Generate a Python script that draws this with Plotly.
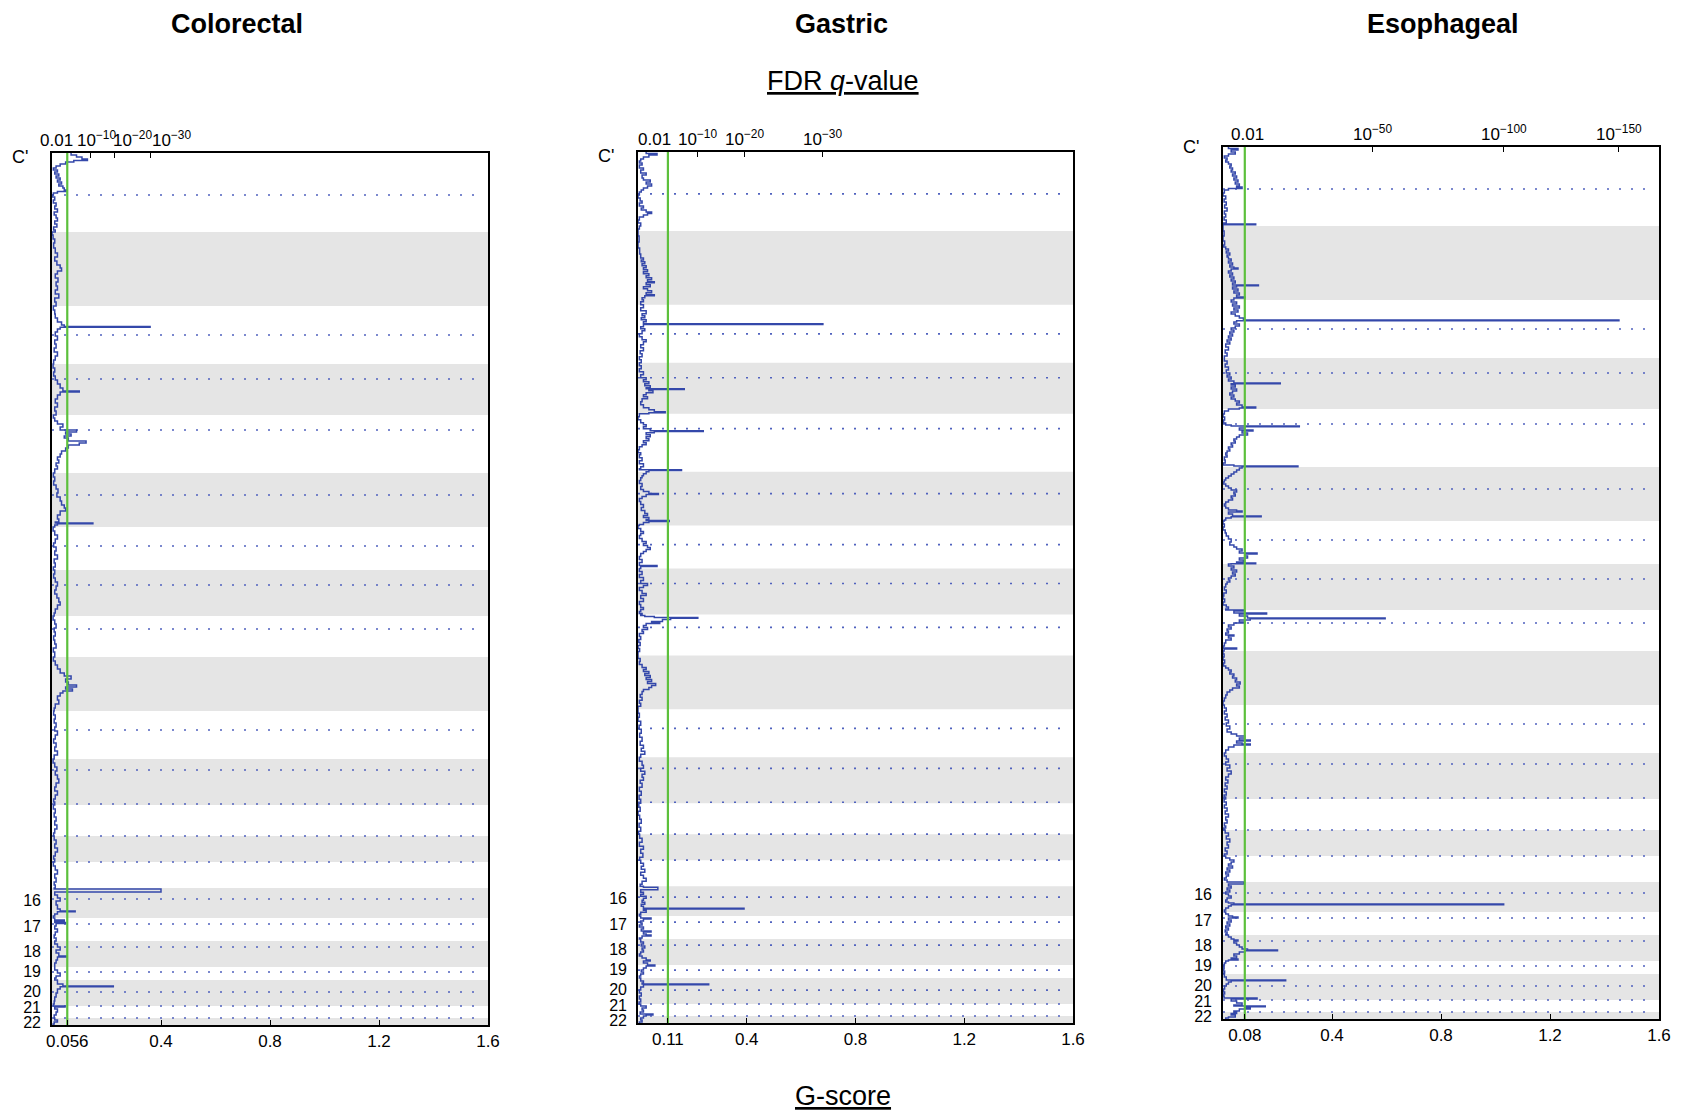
import plotly.graph_objects as go

# ---------------- data ----------------
panel_names = ["Colorectal", "Gastric", "Esophageal"]

# chromosome extents along the genome axis (marker-based units, chr1..chr22)
chrom_len = [79, 74, 58, 51, 58, 54, 43, 46, 41, 54, 48, 46, 31, 26, 26, 30, 23, 26, 13, 26, 12, 7]
# centromere positions (genome units) where dotted lines are drawn
cen_pos = [42, 182, 226, 277, 342, 393, 432, 476, 577, 617, 651, 683, 709, 746, 771, 794, 819, 839, 853, 865]
chr_label_text = ["16", "17", "18", "19", "20", "21", "22"]
chr_label_pos = [747, 773, 798, 818, 838, 854, 869]

thresholds = [0.056, 0.11, 0.08]
threshold_text = ["0.056", "0.11", "0.08"]
g_ticks = [0.4, 0.8, 1.2, 1.6]
g_tick_text = ["0.4", "0.8", "1.2", "1.6"]

crc_q_ticks = [0.143, 0.228, 0.36]
crc_q_label_x = [0.015, 0.162, 0.297, 0.44]
crc_q_labels = ["0.01", "10<sup>−10</sup>", "10<sup>−20</sup>", "10<sup>−30</sup>"]
gas_q_ticks = [0.22, 0.39, 0.68]
gas_q_label_x = [0.059, 0.22, 0.39, 0.68]
gas_q_labels = ["0.01", "10<sup>−10</sup>", "10<sup>−20</sup>", "10<sup>−30</sup>"]
eso_q_ticks = [0.55, 1.03, 1.453]
eso_q_label_x = [0.09, 0.55, 1.03, 1.453]
eso_q_labels = ["0.01", "10<sup>−50</sup>", "10<sup>−100</sup>", "10<sup>−150</sup>"]

# G-score profiles: (genome position, G-score)
crc_profile = [
    (0, 0.07), (2, 0.09), (4, 0.11), (6, 0.13), (7.5, 0.08), (9, 0.05), (11, 0.03), (13, 0.015), (15, 0.005),
    (17, 0.02), (19, 0.01), (21, 0.025), (23, 0.015), (25, 0.03), (27, 0.02), (29, 0.035), (31, 0.025),
    (33, 0.04), (35, 0.045), (37, 0.055), (38.5, 0.02), (40, 0.005), (42, 0.0), (44, 0.01), (47, 0.005),
    (50, 0.015), (53, 0.01), (56, 0.02), (59, 0.008), (62, 0.015), (65, 0.02), (68, 0.01), (71, 0.018),
    (74, 0.006), (77, 0.012),
    (79, 0.0), (82, 0.004), (86, 0.01), (90, 0.006), (95, 0.012), (100, 0.02), (104, 0.01), (108, 0.018),
    (112, 0.03), (115, 0.035), (118, 0.02), (121, 0.012), (125, 0.022), (129, 0.015), (133, 0.02),
    (137, 0.012), (141, 0.025), (145, 0.01), (149, 0.015),
    (153, 0.005), (157, 0.01), (161, 0.012), (165, 0.02), (169, 0.035), (172, 0.045), (173.5, 0.36),
    (174.3, 0.03), (176, 0.02), (179, 0.012), (183, 0.02), (187, 0.01), (191, 0.015), (195, 0.008),
    (199, 0.02), (203, 0.012), (207, 0.006),
    (211, 0.004), (215, 0.01), (219, 0.006), (223, 0.012), (227, 0.02), (231, 0.03), (235, 0.04),
    (238, 0.1), (239, 0.03), (242, 0.02), (246, 0.012), (250, 0.02), (254, 0.01), (258, 0.015),
    (262, 0.005), (265, 0.01), (268, 0.02), (271, 0.04), (274, 0.03), (277, 0.09), (279, 0.05),
    (281, 0.07), (283, 0.045), (285, 0.06), (288, 0.125), (290, 0.1), (292, 0.06), (295, 0.05),
    (298, 0.035), (301, 0.03), (304, 0.02), (307, 0.025), (310, 0.015), (313, 0.02), (316, 0.01),
    (320, 0.005), (324, 0.01), (328, 0.006), (332, 0.015), (336, 0.022), (340, 0.018), (344, 0.03),
    (348, 0.035), (352, 0.045), (355, 0.05), (358, 0.03), (362, 0.02), (366, 0.025), (369, 0.012),
    (370, 0.15), (370.8, 0.02), (372, 0.01),
    (374, 0.004), (378, 0.01), (382, 0.02), (386, 0.012), (390, 0.006), (394, 0.015), (398, 0.01),
    (402, 0.02), (406, 0.008), (410, 0.012), (414, 0.005),
    (417, 0.01), (421, 0.006), (425, 0.012), (429, 0.02), (433, 0.015), (437, 0.01), (441, 0.018),
    (445, 0.025), (449, 0.03), (452, 0.02), (456, 0.012), (460, 0.008),
    (463, 0.004), (467, 0.01), (471, 0.015), (475, 0.008), (479, 0.012), (483, 0.006), (487, 0.01),
    (491, 0.015), (495, 0.005), (499, 0.01),
    (504, 0.005), (508, 0.012), (512, 0.02), (516, 0.03), (520, 0.045), (523, 0.07), (526, 0.05),
    (529, 0.06), (532, 0.09), (534, 0.05), (536, 0.075), (538, 0.04), (540, 0.03), (543, 0.02),
    (547, 0.025), (551, 0.012), (555, 0.008),
    (558, 0.006), (562, 0.012), (566, 0.008), (570, 0.015), (574, 0.01), (578, 0.02), (582, 0.012),
    (586, 0.006), (590, 0.015), (594, 0.01), (598, 0.02), (602, 0.008),
    (606, 0.004), (610, 0.01), (614, 0.018), (618, 0.012), (622, 0.02), (626, 0.025), (630, 0.015),
    (634, 0.01), (638, 0.02), (642, 0.012), (646, 0.006), (649, 0.01),
    (652, 0.005), (656, 0.012), (660, 0.008), (664, 0.015), (668, 0.01), (672, 0.018), (676, 0.01),
    (680, 0.006),
    (683, 0.008), (687, 0.015), (691, 0.01), (695, 0.02), (699, 0.012), (703, 0.006), (706, 0.01),
    (709, 0.005), (713, 0.012), (717, 0.02), (721, 0.01), (725, 0.015), (729, 0.008), (732, 0.012),
    (735, 0.008), (736, 0.40), (739, 0.01), (742, 0.02), (745, 0.03), (748, 0.015), (752, 0.02),
    (756, 0.03), (758, 0.085), (758.8, 0.02), (761, 0.01), (763, 0.005),
    (765, 0.01), (767, 0.045), (768, 0.01), (769.5, 0.05), (770.5, 0.015), (773, 0.01), (776, 0.02),
    (779, 0.012), (782, 0.008), (785, 0.015),
    (788, 0.01), (791, 0.02), (794, 0.03), (797, 0.015), (800, 0.025), (803, 0.055), (804, 0.02),
    (807, 0.015), (810, 0.01),
    (814, 0.01), (817, 0.02), (820, 0.03), (823, 0.015), (825, 0.01),
    (827, 0.02), (831, 0.04), (833, 0.225), (833.8, 0.03), (836, 0.02), (840, 0.015), (844, 0.01),
    (848, 0.008), (851, 0.005),
    (853, 0.048), (854, 0.01), (856, 0.02), (859, 0.015), (862, 0.008),
    (865, 0.01), (867, 0.02), (869, 0.008), (871, 0.004), (872, 0.004),
]

gas_profile = [
    (0, 0.03), (1.5, 0.07), (3, 0.04), (5, 0.02), (7, 0.01), (9, 0.005), (11, 0.015), (13, 0.005),
    (16, 0.02), (18, 0.01), (21, 0.03), (23, 0.015), (26, 0.02), (28, 0.045), (30, 0.03), (32, 0.05),
    (34, 0.035), (36, 0.02), (38, 0.012), (40, 0.005), (43, 0.0), (46, 0.008), (49, 0.015), (51, 0.005),
    (54, 0.02), (56, 0.012), (58, 0.03), (60, 0.05), (61.5, 0.035), (63, 0.02), (65, 0.005), (68, 0.0),
    (71, 0.01), (74, 0.005), (77, 0.0),
    (79, 0.0), (84, 0.004), (90, 0.0), (96, 0.006), (102, 0.01), (106, 0.02), (108, 0.012), (110, 0.025),
    (112, 0.015), (114, 0.03), (116, 0.02), (118, 0.035), (120, 0.02), (122, 0.04), (124, 0.03),
    (126, 0.05), (128, 0.035), (130, 0.06), (131, 0.03), (133, 0.045), (135, 0.02), (137, 0.035),
    (139, 0.05), (141, 0.03), (143, 0.06), (144, 0.025), (146, 0.015), (148, 0.02), (150, 0.01),
    (153, 0.02), (156, 0.01), (159, 0.03), (162, 0.015), (164, 0.025), (166, 0.012), (168, 0.03),
    (170, 0.02), (172, 0.68), (172.8, 0.02), (175, 0.01), (177, 0.025), (179, 0.015), (182, 0.005),
    (185, 0.015), (188, 0.03), (190, 0.02), (193, 0.01), (196, 0.02), (199, 0.008), (202, 0.015),
    (205, 0.005), (208, 0.012),
    (211, 0.005), (214, 0.012), (217, 0.005), (220, 0.02), (223, 0.01), (226, 0.03), (228, 0.02),
    (230, 0.04), (232, 0.025), (234, 0.045), (236, 0.03), (237, 0.17), (237.8, 0.04), (239, 0.055),
    (241, 0.03), (243, 0.02), (245, 0.035), (247, 0.015), (250, 0.01), (253, 0.02), (256, 0.04),
    (258, 0.06), (260, 0.1), (261, 0.04),
    (262, 0.005), (265, 0.0), (268, 0.01), (271, 0.02), (273, 0.03), (275, 0.02), (277, 0.045),
    (279, 0.24), (279.8, 0.06), (281, 0.03), (283, 0.045), (285, 0.03), (287, 0.04), (289, 0.02),
    (291, 0.03), (293, 0.015), (295, 0.005), (298, 0.0), (301, 0.01), (303, 0.005), (306, 0.015),
    (309, 0.005), (312, 0.02), (315, 0.01), (317, 0.005),
    (318, 0.16), (318.8, 0.04), (320, 0.03), (322, 0.02), (324, 0.015), (326, 0.01), (329, 0.005),
    (332, 0.015), (335, 0.01), (338, 0.02), (340, 0.04), (342, 0.075), (343, 0.03), (345, 0.015),
    (347, 0.005), (350, 0.01), (353, 0.02), (356, 0.012), (359, 0.025), (362, 0.035), (364, 0.02),
    (366, 0.04), (368, 0.03), (369, 0.115), (370, 0.04), (371, 0.02), (373, 0.005),
    (374, 0.0), (377, 0.01), (380, 0.02), (382, 0.01), (384, 0.005), (387, 0.015), (390, 0.03),
    (392, 0.02), (394, 0.035), (396, 0.045), (398, 0.03), (400, 0.02), (402, 0.01), (405, 0.005),
    (408, 0.015), (411, 0.005), (414, 0.07), (415, 0.01),
    (417, 0.005), (420, 0.015), (423, 0.005), (426, 0.02), (429, 0.01), (432, 0.035), (434, 0.02),
    (436, 0.005), (439, 0.015), (442, 0.03), (444, 0.01), (447, 0.02), (450, 0.005), (453, 0.01),
    (456, 0.02), (458, 0.01), (460, 0.005), (462, 0.015),
    (463, 0.01), (464, 0.025), (465, 0.06), (466, 0.22), (466.8, 0.12), (468, 0.09), (470, 0.05),
    (471, 0.08), (472, 0.03), (474, 0.02), (476, 0.035), (478, 0.015), (480, 0.02), (482, 0.005),
    (485, 0.01), (488, 0.003), (491, 0.008), (494, 0.0), (497, 0.006), (500, 0.0),
    (504, 0.0), (507, 0.008), (510, 0.005), (513, 0.015), (516, 0.03), (518, 0.02), (520, 0.04),
    (522, 0.025), (524, 0.045), (526, 0.03), (528, 0.05), (530, 0.035), (532, 0.065), (534, 0.05),
    (536, 0.04), (538, 0.02), (540, 0.015), (543, 0.008), (546, 0.015), (549, 0.005), (552, 0.01),
    (555, 0.0),
    (558, 0.0), (562, 0.005), (566, 0.0), (570, 0.01), (574, 0.004), (578, 0.012), (582, 0.006),
    (586, 0.015), (590, 0.008), (594, 0.02), (597, 0.012), (600, 0.025), (603, 0.01),
    (606, 0.005), (610, 0.015), (614, 0.02), (617, 0.01), (620, 0.025), (623, 0.015), (626, 0.02),
    (629, 0.008), (632, 0.015), (636, 0.005), (640, 0.012), (644, 0.004), (648, 0.01),
    (652, 0.003), (656, 0.008), (660, 0.0), (664, 0.006), (668, 0.012), (672, 0.004), (676, 0.01),
    (680, 0.002),
    (683, 0.006), (687, 0.015), (691, 0.005), (695, 0.02), (698, 0.01), (702, 0.018), (706, 0.006),
    (709, 0.01), (712, 0.02), (715, 0.012), (718, 0.025), (721, 0.01), (724, 0.02), (727, 0.03),
    (730, 0.015), (733, 0.008),
    (735, 0.02), (736, 0.073), (738.5, 0.01), (741, 0.02), (743, 0.01), (745, 0.03), (747, 0.02),
    (749, 0.015), (751, 0.025), (753, 0.012), (755, 0.02), (757, 0.39), (757.8, 0.02), (759, 0.03),
    (761, 0.01), (763, 0.005),
    (765, 0.01), (767, 0.048), (768, 0.02), (770, 0.01), (772, 0.015), (774, 0.005), (776, 0.02),
    (778, 0.012), (780, 0.048), (781, 0.02), (783, 0.03), (784, 0.048), (785, 0.015), (787, 0.005),
    (788, 0.01), (791, 0.02), (793, 0.012), (795, 0.025), (797, 0.015), (799, 0.02), (801, 0.01),
    (803, 0.005), (805, 0.015), (807, 0.03), (809, 0.045), (810, 0.02), (812, 0.035),
    (814, 0.062), (815, 0.03), (817, 0.02), (819, 0.012), (821, 0.02), (823, 0.01), (825, 0.005),
    (827, 0.01), (830, 0.02), (832, 0.015), (833, 0.26), (833.8, 0.02), (836, 0.01), (839, 0.005),
    (842, 0.012), (845, 0.005), (848, 0.01), (851, 0.004),
    (853, 0.01), (855, 0.03), (857, 0.015), (859, 0.02), (861, 0.008), (863, 0.055), (864, 0.03),
    (865, 0.02), (867, 0.01), (869, 0.015), (871, 0.005), (872, 0.005),
]

eso_profile = [
    (0, 0.02), (1.5, 0.055), (3, 0.03), (5, 0.045), (7, 0.02), (9, 0.005), (11, 0.015), (13, 0.01),
    (15, 0.02), (17, 0.03), (19, 0.025), (21, 0.035), (23, 0.03), (25, 0.045), (27, 0.035), (29, 0.05),
    (31, 0.04), (33, 0.055), (35, 0.045), (37, 0.06), (39, 0.05), (40, 0.07), (41.5, 0.02), (43, 0.005),
    (46, 0.0), (49, 0.01), (52, 0.004), (55, 0.012), (58, 0.006), (61, 0.015), (64, 0.005), (67, 0.01),
    (70, 0.004), (73, 0.012), (76, 0.0), (77, 0.12), (77.8, 0.0),
    (79, 0.0), (84, 0.004), (89, 0.0), (94, 0.006), (98, 0.002), (100, 0.01), (102, 0.02), (104, 0.012),
    (106, 0.025), (108, 0.015), (110, 0.02), (112, 0.03), (114, 0.02), (116, 0.035), (118, 0.025),
    (120, 0.04), (121, 0.055), (122, 0.03), (124, 0.02), (126, 0.035), (128, 0.025), (130, 0.04),
    (132, 0.03), (134, 0.045), (136, 0.035), (138, 0.13), (138.8, 0.05), (140, 0.035), (142, 0.055),
    (144, 0.04), (146, 0.06), (148, 0.05), (150, 0.08), (151, 0.04),
    (153, 0.03), (155, 0.05), (157, 0.035), (159, 0.06), (161, 0.04), (163, 0.055), (165, 0.03),
    (167, 0.045), (169, 0.06), (171, 0.075), (173, 1.453), (173.8, 0.05), (175, 0.04), (177, 0.06),
    (179, 0.045), (181, 0.03), (183, 0.04), (185, 0.025), (187, 0.035), (189, 0.02), (191, 0.03),
    (193, 0.015), (195, 0.025), (197, 0.01), (200, 0.02), (203, 0.008), (206, 0.015), (209, 0.005),
    (211, 0.005), (214, 0.015), (217, 0.008), (220, 0.02), (223, 0.012), (226, 0.025), (228, 0.015),
    (230, 0.03), (232, 0.02), (234, 0.04), (236, 0.21), (236.8, 0.03), (238, 0.045), (240, 0.03),
    (242, 0.05), (244, 0.035), (246, 0.025), (248, 0.04), (250, 0.03), (252, 0.045), (254, 0.06),
    (256, 0.05), (258, 0.07), (260, 0.12), (261, 0.06),
    (262, 0.02), (264, 0.005), (267, 0.0), (270, 0.006), (273, 0.002), (276, 0.01), (278, 0.03),
    (279, 0.28), (279.8, 0.08), (281, 0.06), (283, 0.11), (284, 0.07), (286, 0.09), (288, 0.06),
    (290, 0.05), (292, 0.04), (294, 0.045), (296, 0.03), (298, 0.035), (300, 0.02), (302, 0.025),
    (304, 0.015), (306, 0.01), (308, 0.015), (310, 0.005), (313, 0.008), (316, 0.0),
    (318, 0.04), (319, 0.275), (319.8, 0.07), (321, 0.06), (323, 0.05), (325, 0.04), (327, 0.03),
    (329, 0.02), (331, 0.01), (333, 0.005), (335, 0.0), (337, 0.01), (339, 0.02), (341, 0.03),
    (343, 0.05), (345, 0.04), (347, 0.045), (349, 0.03), (351, 0.035), (353, 0.02), (355, 0.01),
    (357, 0.005), (359, 0.01), (361, 0.02), (363, 0.05), (364, 0.07), (365, 0.02), (367, 0.035),
    (369, 0.14), (369.8, 0.03), (371, 0.01), (373, 0.005),
    (374, 0.0), (377, 0.005), (380, 0.0), (383, 0.008), (386, 0.012), (389, 0.02), (392, 0.03),
    (395, 0.025), (398, 0.04), (400, 0.05), (402, 0.07), (404, 0.06), (406, 0.125), (407, 0.08),
    (409, 0.09), (411, 0.06), (413, 0.075), (415, 0.05), (416, 0.12), (416.8, 0.03),
    (417, 0.02), (419, 0.04), (421, 0.03), (423, 0.05), (425, 0.035), (427, 0.045), (429, 0.03),
    (431, 0.02), (433, 0.025), (435, 0.015), (437, 0.01), (440, 0.005), (443, 0.012), (446, 0.003),
    (449, 0.0), (452, 0.006), (455, 0.0), (458, 0.012), (460, 0.02), (462, 0.01),
    (463, 0.075), (464, 0.04), (466, 0.16), (467, 0.06), (469, 0.09), (471, 0.595), (471.8, 0.1),
    (473, 0.06), (475, 0.08), (476, 0.04), (478, 0.02), (480, 0.03), (482, 0.015), (484, 0.02),
    (486, 0.01), (488, 0.04), (489, 0.02), (491, 0.03), (493, 0.01), (496, 0.005), (499, 0.0),
    (501, 0.05), (502, 0.004),
    (504, 0.0), (507, 0.004), (510, 0.0), (513, 0.006), (516, 0.002), (519, 0.01), (521, 0.02),
    (523, 0.03), (525, 0.025), (527, 0.04), (529, 0.035), (531, 0.05), (533, 0.045), (535, 0.063),
    (537, 0.05), (539, 0.06), (541, 0.035), (543, 0.025), (545, 0.015), (548, 0.01), (551, 0.005),
    (554, 0.0),
    (558, 0.005), (561, 0.012), (564, 0.005), (567, 0.015), (570, 0.008), (573, 0.02), (576, 0.012),
    (579, 0.025), (582, 0.015), (585, 0.03), (587, 0.05), (589, 0.08), (591, 0.06), (593, 0.1),
    (594, 0.05), (596, 0.07), (597, 0.1), (598, 0.04), (600, 0.02), (603, 0.01),
    (606, 0.005), (609, 0.012), (612, 0.02), (615, 0.01), (618, 0.025), (621, 0.015), (624, 0.03),
    (627, 0.02), (630, 0.01), (633, 0.018), (636, 0.008), (639, 0.015), (642, 0.005), (645, 0.012),
    (648, 0.004), (650, 0.01),
    (652, 0.004), (655, 0.012), (658, 0.005), (661, 0.015), (664, 0.008), (667, 0.02), (670, 0.01),
    (673, 0.015), (676, 0.005), (679, 0.01), (681, 0.003),
    (683, 0.008), (686, 0.02), (689, 0.012), (692, 0.025), (695, 0.015), (698, 0.02), (701, 0.008),
    (704, 0.015), (707, 0.005),
    (709, 0.01), (711, 0.025), (713, 0.04), (715, 0.03), (717, 0.02), (719, 0.035), (721, 0.015),
    (723, 0.025), (725, 0.01), (727, 0.02), (729, 0.012), (731, 0.005), (733, 0.015),
    (735, 0.077), (737, 0.02), (739, 0.03), (741, 0.015), (743, 0.025), (745, 0.01), (747, 0.02),
    (749, 0.03), (751, 0.015), (753, 0.01), (755, 0.02), (756, 0.04), (757, 1.03), (757.8, 0.03),
    (759, 0.02), (761, 0.01), (763, 0.005),
    (765, 0.01), (767, 0.02), (769, 0.035), (770, 0.055), (771, 0.02), (773, 0.03), (775, 0.015),
    (777, 0.025), (779, 0.01), (781, 0.02), (783, 0.008), (785, 0.015), (787, 0.01),
    (788, 0.02), (790, 0.03), (792, 0.04), (793, 0.055), (794, 0.04), (796, 0.05), (798, 0.06),
    (800, 0.07), (802, 0.09), (803, 0.2), (803.8, 0.08), (805, 0.06), (807, 0.04), (809, 0.05),
    (811, 0.03), (812, 0.055), (813, 0.02),
    (814, 0.01), (816, 0.005), (818, 0.0), (820, 0.004), (822, 0.0), (824, 0.006), (826, 0.0),
    (827, 0.005), (830, 0.012), (833, 0.23), (833.8, 0.03), (835, 0.02), (837, 0.012), (839, 0.006),
    (842, 0.002), (845, 0.006), (847, 0.0), (849, 0.004),
    (851, 0.125), (852, 0.03), (854, 0.05), (856, 0.07), (858, 0.04), (859, 0.155), (859.8, 0.08),
    (861, 0.1), (862, 0.06), (864, 0.04),
    (865, 0.05), (866.5, 0.03), (868, 0.045), (870, 0.02), (871, 0.01), (872, 0.01),
]

# ---------------- styling / layout constants ----------------
PAGE_W, PAGE_H = 1684, 1120
OFF = 8  # default body margin of the written page
W, H = PAGE_W - 2 * OFF, PAGE_H - 2 * OFF
FONT = "Liberation Sans, Arial, Helvetica, sans-serif"
PROFILE_COLOR = "rgb(52,72,170)"
DOT_COLOR = "rgb(80,98,190)"
GREEN = "rgb(92,192,60)"
BAND = "#e5e5e5"
# panel pixel boxes on the page: left, right, top, bottom
panel_px = [(52, 488, 153, 1025), (638, 1073, 152, 1023), (1223, 1659, 147, 1019)]
title_px = [(237, 24), (841, 24), (1443, 24)]
c_label_shift = [-4, -4, 0]


def px_x(px):
    return (px - OFF) / W


def px_y(py):
    return 1 - (py - OFF) / H


profiles = [crc_profile, gas_profile, eso_profile]
q_ticks = [crc_q_ticks, gas_q_ticks, eso_q_ticks]
q_label_x = [crc_q_label_x, gas_q_label_x, eso_q_label_x]
q_labels = [crc_q_labels, gas_q_labels, eso_q_labels]

genome_total = sum(chrom_len)
chrom_start = []
acc = 0
for L in chrom_len:
    chrom_start.append(acc)
    acc += L

fig = go.Figure()
shapes = []
annotations = []
layout_axes = {}

for i in range(3):
    n = i + 1
    xa = "x" if n == 1 else f"x{n}"
    ya = "y" if n == 1 else f"y{n}"
    xt = f"x{n + 3}"
    left, right, top, bottom = panel_px[i]
    xdom = [px_x(left), px_x(right)]
    ydom = [px_y(bottom), px_y(top)]

    # alternating chromosome shading (even chromosomes)
    for k, (s, L) in enumerate(zip(chrom_start, chrom_len)):
        if (k + 1) % 2 == 0:
            shapes.append(dict(type="rect", xref=f"{xa} domain", yref=ya, x0=0, x1=1,
                               y0=s, y1=s + L, fillcolor=BAND, line=dict(width=0), layer="below"))

    # centromere dotted lines
    cx, cy = [], []
    for c in cen_pos:
        cx += [0, 1.565, None]
        cy += [c, c, None]
    fig.add_trace(go.Scatter(x=cx, y=cy, mode="lines", xaxis=xa, yaxis=ya,
                             line=dict(color=DOT_COLOR, width=1.7, dash="2px,10px"),
                             hoverinfo="skip", showlegend=False))

    # significance threshold line
    fig.add_trace(go.Scatter(x=[thresholds[i], thresholds[i]], y=[0, genome_total], mode="lines",
                             xaxis=xt, yaxis=ya, line=dict(color=GREEN, width=2.2),
                             hoverinfo="skip", showlegend=False))

    # G-score profile
    pos = [p for p, g in profiles[i]]
    gs = [g for p, g in profiles[i]]
    fig.add_trace(go.Scatter(x=gs, y=pos, mode="lines", xaxis=xa, yaxis=ya,
                             line=dict(color=PROFILE_COLOR, width=1.5, shape="vh"),
                             hoverinfo="skip", showlegend=False))

    axis_common = dict(showgrid=False, zeroline=False, fixedrange=True, automargin=False)
    layout_axes["xaxis" if n == 1 else f"xaxis{n}"] = dict(
        domain=xdom, anchor=ya, range=[0, 1.6],
        tickvals=[thresholds[i]] + g_ticks, ticktext=[threshold_text[i]] + g_tick_text,
        ticks="inside", ticklen=5, tickcolor="black", tickwidth=1,
        showline=True, linecolor="black", linewidth=1.6, mirror=True,
        tickfont=dict(size=17, color="black", family=FONT), ticklabelstandoff=0, **axis_common)
    layout_axes[f"xaxis{n + 3}"] = dict(
        overlaying=xa, anchor=ya, side="top", range=[0, 1.6], tickvals=q_ticks[i],
        ticks="inside", ticklen=5, tickcolor="black", tickwidth=1, showticklabels=False,
        showline=False, **axis_common)
    layout_axes["yaxis" if n == 1 else f"yaxis{n}"] = dict(
        domain=ydom, anchor=xa, range=[genome_total, 0],
        tickvals=chr_label_pos, ticktext=chr_label_text, ticks="",
        showline=True, linecolor="black", linewidth=1.6, mirror=True,
        tickfont=dict(size=16, color="black", family=FONT), ticklabelstandoff=6, **axis_common)

    # q-value labels on top axis
    for qx, qt in zip(q_label_x[i], q_labels[i]):
        annotations.append(dict(x=qx, y=1, xref=xa, yref=f"{ya} domain", text=qt, showarrow=False,
                                xanchor="center", yanchor="bottom", yshift=1,
                                font=dict(size=17, color="black", family=FONT)))
    # clipped chromosome axis label
    annotations.append(dict(x=0, y=1, xref=f"{xa} domain", yref=f"{ya} domain", text="C'",
                            showarrow=False, xanchor="right", yanchor="middle", xshift=-22,
                            yshift=c_label_shift[i], font=dict(size=18, color="black", family=FONT)))
    # panel title
    tx, ty = title_px[i]
    annotations.append(dict(x=px_x(tx), y=px_y(ty), xref="paper", yref="paper",
                            text=f"<b>{panel_names[i]}</b>", showarrow=False,
                            xanchor="center", yanchor="middle",
                            font=dict(size=27, color="black", family=FONT)))

annotations.append(dict(x=px_x(843), y=px_y(81), xref="paper", yref="paper",
                        text="<u>FDR <i>q</i>-value</u>", showarrow=False, xanchor="center",
                        yanchor="middle", font=dict(size=27, color="black", family=FONT)))
annotations.append(dict(x=px_x(843), y=px_y(1096), xref="paper", yref="paper",
                        text="<u>G-score</u>", showarrow=False, xanchor="center",
                        yanchor="middle", font=dict(size=27, color="black", family=FONT)))

fig.update_layout(
    width=W, height=H, autosize=False,
    margin=dict(l=0, r=0, t=0, b=0, pad=0),
    paper_bgcolor="white", plot_bgcolor="white",
    font=dict(family=FONT, color="black"),
    showlegend=False,
    shapes=shapes, annotations=annotations,
    **layout_axes,
)

fig.write_html("out.html")
